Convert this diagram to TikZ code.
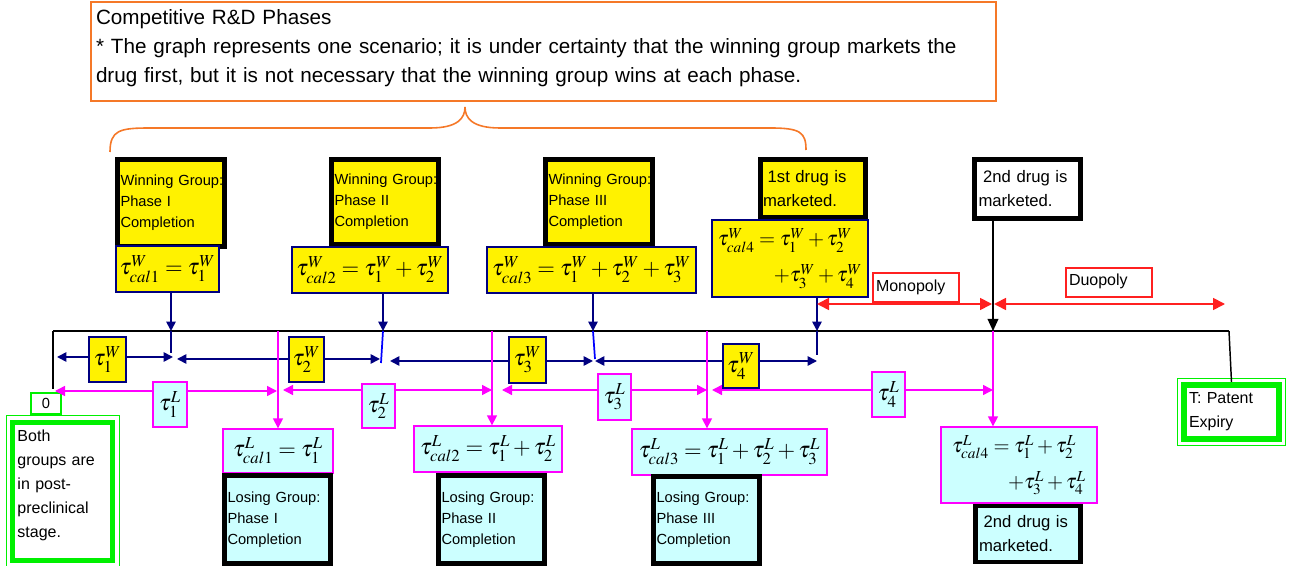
\documentclass[tikz,border=0pt]{standalone}
\usepackage{mathptmx}
\usepackage{fontspec}
\setmainfont{Liberation Sans}
\usetikzlibrary{arrows.meta}
\definecolor{navyb}{RGB}{0,0,128}
\definecolor{blueb}{RGB}{0,0,255}
\definecolor{magb}{RGB}{255,0,255}
\definecolor{cyanf}{RGB}{204,255,255}
\definecolor{greenb}{RGB}{0,240,0}
\definecolor{redb}{RGB}{255,32,32}
\definecolor{orangeb}{RGB}{245,120,40}
\tikzset{
 ntip/.tip={Triangle[length=7pt,width=7pt]},
 mtip/.tip={Triangle[length=7.5pt,width=7.5pt]},
 rtip/.tip={Triangle[length=9pt,width=9pt]},
 ktip/.tip={Triangle[length=9pt,width=8pt]},
}
\begin{document}
\begin{tikzpicture}[x=0.75pt,y=-0.75pt,
 sz/.style 2 args={minimum width=#1*0.75pt,minimum height=#2*0.75pt},
 tw/.style={text width=#1*0.75pt},
 blk/.style={draw=black,line width=3.5pt,inner sep=0pt,align=left,font=\fontsize{11}{15.75}\selectfont},
 drugtxt/.style={font=\fontsize{12.5}{18}\selectfont},
 fw/.style={draw=navyb,line width=1pt,fill=yellow,inner sep=0pt,font=\fontsize{17}{20}\selectfont},
 fl/.style={draw=magb,line width=1pt,fill=cyanf,inner sep=0pt,font=\fontsize{17}{20}\selectfont},
 lab/.style={draw=redb,line width=1pt,fill=white,inner sep=0pt,align=left,font=\fontsize{12}{14}\selectfont},
 gbox/.style={draw=greenb,fill=white,inner sep=0pt,align=left,font=\fontsize{12}{18}\selectfont},
 wline/.style={draw=navyb,line width=1.3pt},
 warr/.style={wline,-ntip},
 wdbl/.style={wline,ntip-ntip},
 lline/.style={draw=magb,line width=1.1pt},
 larr/.style={lline,-mtip},
 ldbl/.style={lline,mtip-mtip},
 rdbl/.style={draw=redb,line width=1.3pt,rtip-rtip},
]
\useasboundingbox (0,0) rectangle (1297,566);

% header and brace
\node[draw=orangeb,line width=1pt,sz={905}{99},tw=895,inner sep=0pt,align=left,font=\fontsize{15.5}{21.75}\selectfont] (head) at (543.5,51.5)
 {Competitive R\&D Phases\\\mbox{{*} The graph represents one scenario; it is under certainty that the winning group markets the}\\drug first, but it is not necessary that the winning group wins at each phase.\rule[-8pt]{0pt}{0pt}};
\draw[orangeb,line width=1.2pt] (110,152) .. controls (110,130) and (120,128) .. (150,128) -- (430,128)
 .. controls (458,128) and (465,118) .. (465,107) .. controls (465,118) and (472,128) .. (500,128)
 -- (770,128) .. controls (800,128) and (806,132) .. (806,150);

% winning group boxes
\node[blk,fill=yellow,sz={107}{87},tw=101] (wg1) at (171,203) {\mbox{Winning Group:}\\Phase I\\Completion};
\node[blk,fill=yellow,sz={107}{85},tw=101] (wg2) at (385,202) {\mbox{Winning Group:}\\Phase II\\Completion};
\node[blk,fill=yellow,sz={107}{85},tw=101] (wg3) at (599,202) {\mbox{Winning Group:}\\Phase III\\Completion};
\node[blk,drugtxt,fill=yellow,sz={105}{58},tw=100] (wg4) at (813,188.5) {\hspace*{0.28em}1st drug is\\marketed.};
\node[blk,drugtxt,fill=white,sz={106}{59},tw=98] (top2) at (1027.5,189) {\hspace*{0.28em}2nd drug is\\marketed.};

\node[fw,sz={103}{46}] (fw1) at (167.5,269) {$\tau^{W}_{cal1}=\tau^{W}_{1}$};
\node[fw,sz={156}{46}] (fw2) at (370,270) {$\tau^{W}_{cal2}=\tau^{W}_{1}+\tau^{W}_{2}$};
\node[fw,sz={209}{46}] (fw3) at (591.5,270) {$\tau^{W}_{cal3}=\tau^{W}_{1}+\tau^{W}_{2}+\tau^{W}_{3}$};
\node[fw,sz={156}{77},align=left,font=\fontsize{15.5}{27}\selectfont] (fw4) at (790,258.5) {$\tau^{W}_{cal4}=\tau^{W}_{1}+\tau^{W}_{2}$\\\hspace*{42pt}$+\tau^{W}_{3}+\tau^{W}_{4}$};

% losing group boxes
\node[fl,sz={110}{44}] (fl1) at (278,451) {$\tau^{L}_{cal1}=\tau^{L}_{1}$};
\node[fl,sz={148}{46}] (fl2) at (488,449) {$\tau^{L}_{cal2}=\tau^{L}_{1}+\tau^{L}_{2}$};
\node[fl,sz={195}{46}] (fl3) at (729.5,452) {$\tau^{L}_{cal3}=\tau^{L}_{1}+\tau^{L}_{2}+\tau^{L}_{3}$};
\node[fl,sz={156}{76},align=left,font=\fontsize{15.5}{27}\selectfont] (fl4) at (1019,465) {$\tau^{L}_{cal4}=\tau^{L}_{1}+\tau^{L}_{2}$\\\hspace*{42pt}$+\tau^{L}_{3}+\tau^{L}_{4}$};

\node[blk,fill=cyanf,sz={106}{88},tw=100] (lg1) at (277.5,519.5) {\mbox{Losing Group:}\\Phase I\\Completion};
\node[blk,fill=cyanf,sz={106}{88},tw=100] (lg2) at (491.5,519.5) {\mbox{Losing Group:}\\Phase II\\Completion};
\node[blk,fill=cyanf,sz={106}{87},tw=100] (lg3) at (706.5,520) {\mbox{Losing Group:}\\Phase III\\Completion};
\node[blk,drugtxt,fill=cyanf,sz={105}{56},tw=98] (lg4) at (1028,534) {\hspace*{0.28em}2nd drug is\\marketed.};

% market labels
\node[lab,sz={86}{29},tw=80] (mono) at (916,287.5) {Monopoly};
\node[lab,sz={86}{29},tw=80] (duo) at (1109,282.5) {Duopoly\rule[-4pt]{0pt}{0pt}};

% green boxes
\node[gbox,line width=3.75pt,sz={100}{138},tw=90] (both) at (62.5,492) {Both\\groups are\\in post-\\preclinical\\stage.\rule[-12pt]{0pt}{0pt}};
\draw[greenb,line width=0.8pt] ([xshift=-2.5pt,yshift=3.5pt]both.north west) rectangle ([xshift=3.5pt,yshift=-4pt]both.south east);
\node[gbox,line width=4.5pt,sz={95}{54},tw=85] (tbox) at (1231.5,412) {T: Patent\\Expiry};
\draw[greenb,line width=0.8pt] ([xshift=-2.5pt,yshift=2.5pt]tbox.north west) rectangle ([xshift=2.5pt,yshift=-2.5pt]tbox.south east);
\node[draw=greenb,line width=1pt,fill=white,sz={30}{21},inner sep=0pt,font=\fontsize{11}{13}\selectfont] (zero) at (46,403.5) {0};

% timeline coordinates
\coordinate (t0) at (53,331);
\coordinate (t0b) at (53,389);
\coordinate (tT) at (1229,331);
\coordinate (wt1) at (171,331); \coordinate (wb1) at (171,353);
\coordinate (wt2) at (383,331); \coordinate (wb2) at (381,363);
\coordinate (wt3) at (593,331); \coordinate (wb3) at (595,359);
\coordinate (wt4) at (817,331); \coordinate (wb4) at (817,355);
\coordinate (lt1) at (278,331);
\coordinate (lt2) at (492,331);
\coordinate (lt3) at (707,331);
\coordinate (lt4) at (993,331);
\coordinate (a1s) at (57,357);  \coordinate (a1e) at (173,357);
\coordinate (a2s) at (177,359); \coordinate (a2e) at (380,359);
\coordinate (a3s) at (390,361); \coordinate (a3e) at (593,361);
\coordinate (a4s) at (595,361); \coordinate (a4e) at (817,361);
\coordinate (b1s) at (55,391);  \coordinate (b1e) at (277,391);
\coordinate (b2s) at (283,390); \coordinate (b2e) at (492,390);
\coordinate (b3s) at (502,390); \coordinate (b3e) at (707,390);
\coordinate (b4s) at (712,390); \coordinate (b4e) at (993,390);
\coordinate (r1) at (817,304); \coordinate (r2) at (992,304);
\coordinate (r3) at (994,304); \coordinate (r4) at (1225,304);

% timeline
\draw[line width=2.2pt] (t0) -- (tT);
\draw[line width=1.1pt] (t0) -- (t0b);
\draw[line width=1.1pt] (tT) -- (tbox.north);

% winning arrows
\draw[warr] (fw1.south -| wt1) -- (wt1);
\draw[warr] (fw2.south -| wt2) -- (wt2);
\draw[warr] (fw3.south -| wt3) -- (wt3);
\draw[warr] (fw4.south -| wt4) -- (wt4);
\draw[wline] (wt1) -- (wb1);
\draw[draw=blueb,line width=1.3pt] (wt2) -- (wb2);
\draw[draw=blueb,line width=1.3pt] (wt3) -- (wb3);
\draw[wline] (wt4) -- (wb4);
\draw[wdbl] (a1s) -- (a1e);
\draw[wdbl] (a2s) -- (a2e);
\draw[wdbl] (a3s) -- (a3e);
\draw[wdbl] (a4s) -- (a4e);

% losing arrows
\draw[larr] (lt1) -- (fl1.north -| lt1);
\draw[larr] (lt2) -- (fl2.north -| lt2);
\draw[larr] (lt3) -- (fl3.north -| lt3);
\draw[larr] (lt4) -- (fl4.north -| lt4);
\draw[ldbl] (b1s) -- (b1e);
\draw[ldbl] (b2s) -- (b2e);
\draw[ldbl] (b3s) -- (b3e);
\draw[ldbl] (b4s) -- (b4e);

% market arrows
\draw[rdbl] (r1) -- (r2);
\draw[rdbl] (r3) -- (r4);
\draw[line width=1pt,-ktip] (top2.south -| lt4) -- (lt4);

% duration boxes
\node[fw,sz={37}{45}] (tw1) at (107.5,359.5) {$\tau^{W}_{1}$};
\node[fw,sz={35}{45}] (tw2) at (306.5,359.5) {$\tau^{W}_{2}$};
\node[fw,sz={37}{46}] (tw3) at (527.5,360) {$\tau^{W}_{3}$};
\node[fw,sz={36}{44}] (tw4) at (741,366) {$\tau^{W}_{4}$};
\node[fl,sz={34}{45}] (tl1) at (170,404.5) {$\tau^{L}_{1}$};
\node[fl,sz={33}{44}] (tl2) at (378.5,406) {$\tau^{L}_{2}$};
\node[fl,sz={33}{46}] (tl3) at (614.5,397) {$\tau^{L}_{3}$};
\node[fl,sz={33}{45}] (tl4) at (888.5,394.5) {$\tau^{L}_{4}$};
\end{tikzpicture}
\end{document}
